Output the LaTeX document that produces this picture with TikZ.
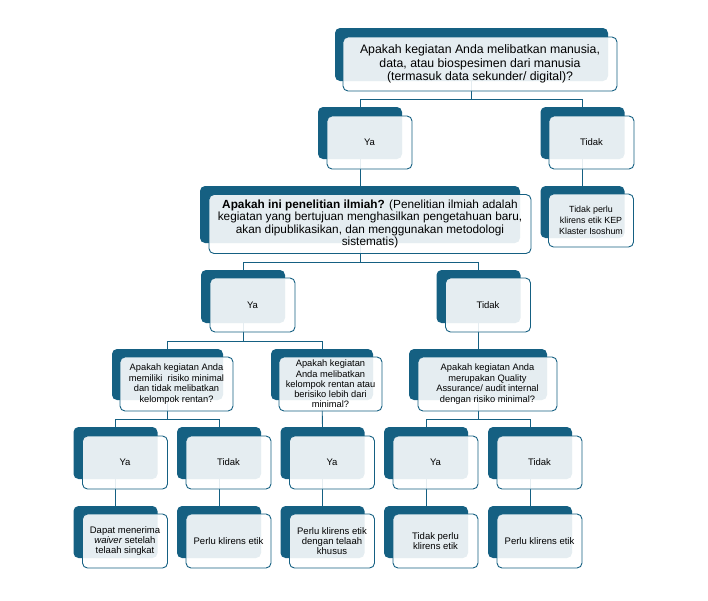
\documentclass[tikz,border=0pt]{standalone}
\usepackage{fontspec}
\setmainfont{Liberation Sans}
\usepackage{tikz}
\usetikzlibrary{calc,backgrounds}
\definecolor{dblue}{HTML}{156082}

\begin{document}
\begin{tikzpicture}[x=1pt, y=-1pt,
  back/.style={rectangle, rounded corners=5pt, fill=dblue, inner sep=0pt, minimum width=84pt, minimum height=52pt},
  front/.style={rectangle, rounded corners=5pt, draw=dblue, line width=0.9pt, fill=white, fill opacity=0.89, text opacity=1, inner sep=1pt, minimum width=85pt, minimum height=53pt, align=center, font=\fontsize{9.5}{10}\selectfont},
  link/.style={draw=dblue, line width=0.9pt}]
  \useasboundingbox (0,0) rectangle (708,600);
	\node[back, minimum width=273pt, minimum height=53pt] (B1) at (471.5,54.5) {};
	\node[back] (B2) at (360,133) {};
	\node[back] (B3) at (582.5,133) {};
	\node[back, minimum width=320pt, minimum height=57pt] (B4) at (360,214.5) {};
	\node[back] (B5) at (582.5,212) {};
	\node[back, minimum height=53pt] (B6) at (243,296.5) {};
	\node[back, minimum height=53pt] (B7) at (478.5,296.5) {};
	\node[back, minimum width=111pt, minimum height=51pt] (B8) at (167.5,374.5) {};
	\node[back, minimum width=102pt, minimum height=51pt] (B9) at (322,374.5) {};
	\node[back, minimum width=138pt, minimum height=51pt] (B10) at (478,374.5) {};
	\node[back] (B11) at (115.5,453) {};
	\node[back] (B12) at (219,453) {};
	\node[back] (B13) at (322.5,453) {};
	\node[back] (B14) at (426,453) {};
	\node[back] (B15) at (530,453) {};
	\node[back] (B16) at (115.5,532) {};
	\node[back] (B17) at (219,532) {};
	\node[back] (B18) at (322.5,532) {};
	\node[back] (B19) at (426,532) {};
	\node[back] (B20) at (530,532) {};
	\node[front, minimum width=274pt, minimum height=54pt, font=\fontsize{12.3}{13.5}\selectfont] (F1) at (480,64) {Apakah kegiatan Anda melibatkan manusia,\\ data, atau biospesimen dari manusia\\ (termasuk data sekunder/ digital)?};
	\node[front] (F2) at (369.5,142.5) {Ya};
	\node[front] (F3) at (591.5,142.5) {Tidak};
	\node[front, minimum width=322pt, minimum height=59pt, font=\fontsize{11.8}{12.5}\selectfont] (F4) at (370,224) {\textbf{Apakah ini penelitian ilmiah?} (Penelitian ilmiah adalah\\ kegiatan yang bertujuan menghasilkan pengetahuan baru,\\ akan dipublikasikan, dan menggunakan metodologi\\ sistematis)};
	\node[front, font=\fontsize{8.9}{10.8}\selectfont] (F5) at (591,220.5) {Tidak perlu\\ klirens etik KEP\\ Klaster Isoshum};
	\node[front, minimum height=54pt] (F6) at (252.5,305) {Ya};
	\node[front, minimum height=54pt] (F7) at (488,305) {Tidak};
	\node[front, minimum width=113pt, minimum height=54pt, font=\fontsize{9.3}{10.5}\selectfont] (F8) at (176.5,384) {Apakah kegiatan Anda\\ memiliki\ \ risiko minimal\\ dan tidak melibatkan\\ kelompok rentan?};
	\node[front, minimum width=103pt, minimum height=54pt, font=\fontsize{9.3}{10.2}\selectfont] (F9) at (330.5,384) {Apakah kegiatan\\ Anda melibatkan\\ kelompok rentan atau\\ berisiko lebih dari\\ minimal?};
	\node[front, minimum width=139pt, minimum height=54pt, font=\fontsize{9.3}{10.5}\selectfont] (F10) at (487.5,384) {Apakah kegiatan Anda\\ merupakan Quality\\ Assurance/ audit internal\\ dengan risiko minimal?};
	\node[front] (F11) at (125,462.5) {Ya};
	\node[front] (F12) at (228.5,462.5) {Tidak};
	\node[front] (F13) at (332,462.5) {Ya};
	\node[front] (F14) at (435.5,462.5) {Ya};
	\node[front] (F15) at (539.5,462.5) {Tidak};
	\node[front, minimum height=54pt] (F16) at (125,541) {Dapat menerima\\ \textit{waiver} setelah\\ telaah singkat};
	\node[front, minimum height=54pt] (F17) at (228.5,541) {Perlu klirens etik};
	\node[front, minimum height=54pt] (F18) at (332,541) {Perlu klirens etik\\ dengan telaah\\ khusus};
	\node[front, minimum height=54pt] (F19) at (435.5,541) {Tidak perlu\\ klirens etik};
	\node[front, minimum height=54pt] (F20) at (539.5,541) {Perlu klirens etik};
	\coordinate (J1) at (0,99);
	\coordinate (J2) at (0,262);
	\coordinate (J3) at (0,341);
	\coordinate (J4) at (0,419);
	\begin{scope}[on background layer]
	\draw[link] (B1.south) -- (B1.south |- J1) -| (B2.north);
	\draw[link] (B1.south |- J1) -| (B3.north);
	\draw[link] (B2.south) -- (B4.north);
	\draw[link] (B3.south) -- (B5.north);
	\draw[link] (B4.south) -- (B4.south |- J2) -| (B6.north);
	\draw[link] (B4.south |- J2) -| (B7.north);
	\draw[link] (B6.south) -- (B6.south |- J3) -| (B8.north);
	\draw[link] (B6.south |- J3) -| (B9.north);
	\draw[link] (B7.south) -- (B7.south |- B10.north);
	\draw[link] (B8.south) -- (B8.south |- J4) -| (B11.north);
	\draw[link] (B8.south |- J4) -| (B12.north);
	\draw[link] (B9.south) -- (B13.north);
	\draw[link] (B10.south) -- (B10.south |- J4) -| (B14.north);
	\draw[link] (B10.south |- J4) -| (B15.north);
	\draw[link] (B11.south) -- (B16.north);
	\draw[link] (B12.south) -- (B17.north);
	\draw[link] (B13.south) -- (B18.north);
	\draw[link] (B14.south) -- (B19.north);
	\draw[link] (B15.south) -- (B20.north);
	\end{scope}
\end{tikzpicture}
\end{document}
